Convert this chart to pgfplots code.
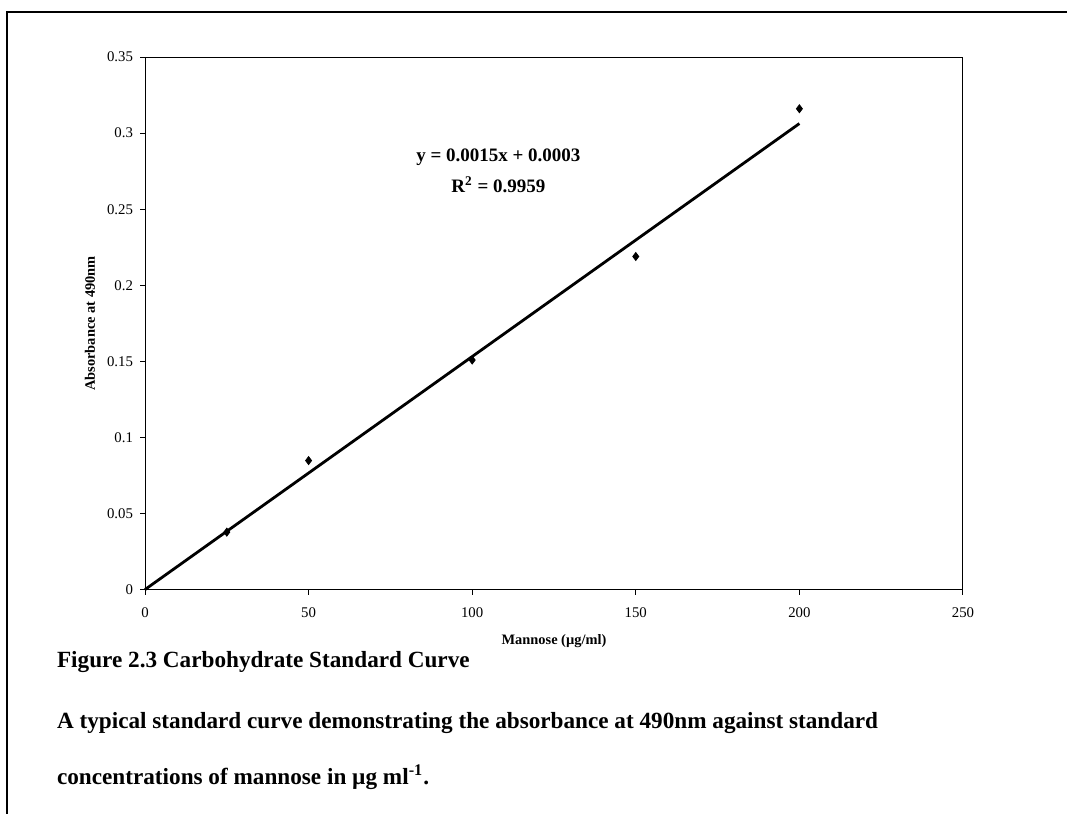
\documentclass[border=0pt]{standalone}
\usepackage{fontspec}
\setmainfont{Liberation Serif}
\usepackage{pgfplots}
\pgfplotsset{compat=1.18}
\begin{document}
\begin{tikzpicture}
\useasboundingbox (0,0) rectangle (533.5pt,407pt);
\draw[line width=1pt] (3.5pt,0) -- (3.5pt,401pt) -- (533.5pt,401pt);
\begin{axis}[
  at={(72.5pt,112pt)}, anchor=south west,
  scale only axis, width=409pt, height=266.5pt,
  xmin=0, xmax=250, ymin=0, ymax=0.35,
  xtick={0,50,100,150,200,250},
  ytick={0,0.05,0.1,0.15,0.2,0.25,0.3,0.35},
  yticklabels={0,0.05,0.1,0.15,0.2,0.25,0.3,0.35},
  xticklabels={0,50,100,150,200,250},
  tick align=outside, xtick pos=bottom, ytick pos=left,
  major tick length=2.5pt,
  axis line style={line width=0.5pt},
  every tick/.style={line width=0.5pt, black},
  ticklabel style={font=\fontsize{7.4}{8}\selectfont},
  xticklabel style={yshift=-3pt},
  label style={font=\fontsize{7.2}{8}\selectfont\bfseries},
  xlabel={Mannose (µg/ml)},
  ylabel={Absorbance at 490nm},
  xlabel style={at={(axis description cs:0.5,-0.0957)}, anchor=center},
  ylabel style={at={(axis description cs:-0.0672,0.5)}, anchor=center},
  clip=false,
]
\addplot[only marks, mark=diamond*, mark size=2pt, black] coordinates {
  (25,0.038) (50,0.085) (100,0.151) (150,0.219) (200,0.316)
};
\addplot[no marks, black, line width=1.4pt] coordinates {
  (0,0.0003) (200,0.3063)
};
\node[align=center, font=\fontsize{9.5}{15.5}\selectfont\bfseries] at (axis cs:108,0.275)
  {y = 0.0015x + 0.0003\\R$^{\mathbf{2}}$ = 0.9959};
\end{axis}
\begin{scope}[font=\fontsize{11.6}{14}\selectfont\bfseries]
\node[anchor=west] at (25pt,76pt) {Figure 2.3 Carbohydrate Standard Curve};
\node[anchor=west] at (25pt,45.5pt) {A typical standard curve demonstrating the absorbance at 490nm against standard};
\node[anchor=west] at (25pt,18.5pt) {concentrations of mannose in µg ml\textsuperscript{-1}.};
\end{scope}
\end{tikzpicture}
\end{document}
